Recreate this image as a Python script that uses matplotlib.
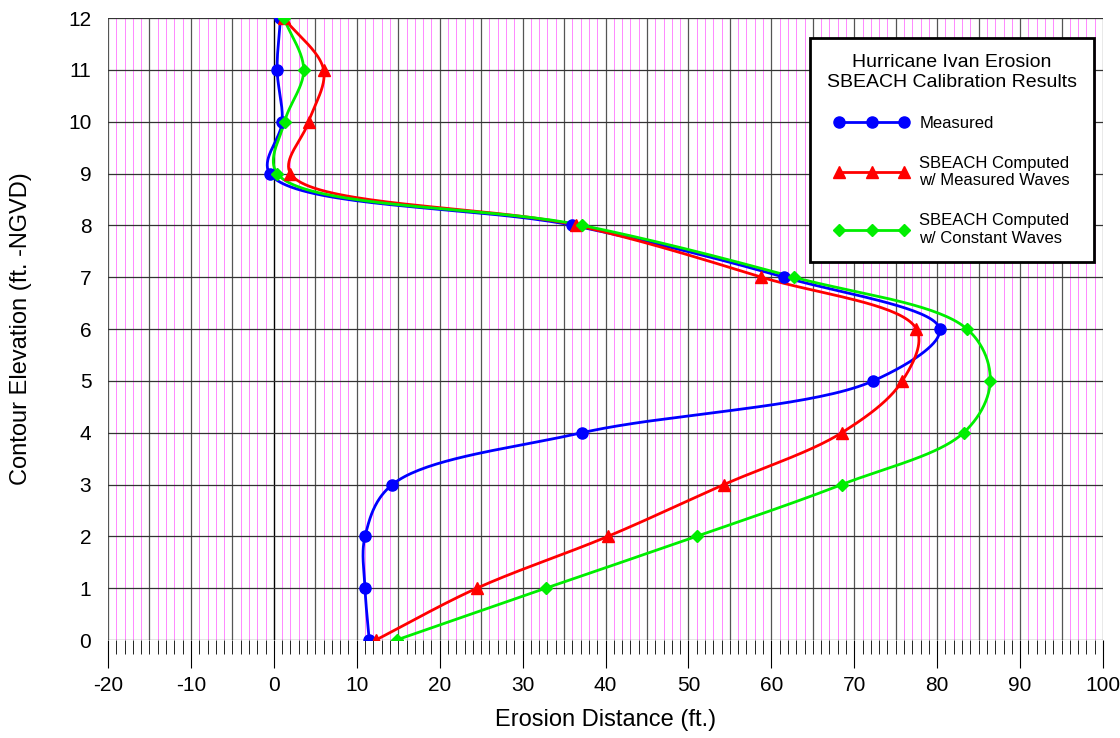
import numpy as np
import matplotlib
matplotlib.use("Agg")
import matplotlib.pyplot as plt
from matplotlib.ticker import MultipleLocator

plt.rcParams['axes.unicode_minus'] = False

elev = [12, 11, 10, 9, 8, 7, 6, 5, 4, 3, 2, 1, 0]
measured = [0.8, 0.4, 1.0, -0.5, 36.0, 61.5, 80.3, 72.3, 37.2, 14.3, 11.0, 11.0, 11.5]
meas_waves = [1.2, 6.0, 4.2, 2.0, 36.5, 58.8, 77.5, 75.8, 68.5, 54.3, 40.3, 24.5, 12.3]
const_waves = [1.2, 3.6, 1.3, 0.4, 37.2, 62.7, 83.6, 86.4, 83.2, 68.5, 51.0, 32.8, 14.8]

def smooth(xs, ys, n=40, alpha=0.5):
    # centripetal Catmull-Rom curve through points (in display-ish scaled units)
    sx, sy = 1 / 8.3, 1 / 51.8
    P = np.column_stack([np.array(xs) / sx, np.array(ys) / sy]).astype(float)
    P = np.vstack([2 * P[0] - P[1], P, 2 * P[-1] - P[-2]])
    out = []
    for i in range(1, len(P) - 2):
        p0, p1, p2, p3 = P[i-1], P[i], P[i+1], P[i+2]
        t0 = 0.0
        t1 = t0 + np.linalg.norm(p1 - p0) ** alpha
        t2 = t1 + np.linalg.norm(p2 - p1) ** alpha
        t3 = t2 + np.linalg.norm(p3 - p2) ** alpha
        t = np.linspace(t1, t2, n)[:, None]
        A1 = (t1 - t) / (t1 - t0) * p0 + (t - t0) / (t1 - t0) * p1
        A2 = (t2 - t) / (t2 - t1) * p1 + (t - t1) / (t2 - t1) * p2
        A3 = (t3 - t) / (t3 - t2) * p2 + (t - t2) / (t3 - t2) * p3
        B1 = (t2 - t) / (t2 - t0) * A1 + (t - t0) / (t2 - t0) * A2
        B2 = (t3 - t) / (t3 - t1) * A2 + (t - t1) / (t3 - t1) * A3
        C = (t2 - t) / (t2 - t1) * B1 + (t - t1) / (t2 - t1) * B2
        out.append(C)
    c = np.vstack(out)
    return c[:, 0] * sx, c[:, 1] * sy

fig = plt.figure(figsize=(11.2, 7.38), dpi=100)
ax = fig.add_axes([108/1120, 1-640/738, (1103-108)/1120, (640-18)/738])
ax.set_xlim(-20, 100)
ax.set_ylim(0, 12)

for v in range(-20, 101):
    if v % 5 == 0:
        ax.axvline(v, color='black' if v == 0 else '#555555', lw=1.0 if v == 0 else 0.9, zorder=1)
    else:
        ax.axvline(v, color='#ff88ff', lw=0.7, zorder=0.5)
for h in range(0, 13):
    ax.axhline(h, color='#333333', lw=0.9, zorder=1)

series = [
    (measured, '#0000ff', 'o', 8, 'Measured'),
    (meas_waves, '#ff0000', '^', 8, 'SBEACH Computed\nw/ Measured Waves'),
    (const_waves, '#00ee00', 'D', 6, 'SBEACH Computed\nw/ Constant Waves'),
]
handles = []
for xs, col, m, ms, lab in series:
    sx, sy = smooth(xs, elev)
    ax.plot(sx, sy, color=col, lw=2, zorder=3)
    ax.plot(xs, elev, ls='none', marker=m, color=col, ms=ms, zorder=4)
    h, = ax.plot([], [], color=col, lw=2, marker=m, ms=ms, label=lab)
    handles.append(h)

ax.xaxis.set_major_locator(MultipleLocator(10))
ax.xaxis.set_minor_locator(MultipleLocator(1))
ax.yaxis.set_major_locator(MultipleLocator(1))
ax.tick_params(axis='x', which='major', length=20, direction='out', labelsize=15, pad=6)
ax.tick_params(axis='x', which='minor', length=10, direction='out')
ax.tick_params(axis='y', which='major', length=0, direction='out', labelsize=15, pad=12)
ax.set_xlabel('Erosion Distance (ft.)', fontsize=17, family='Liberation Sans', labelpad=10)
ax.set_ylabel('Contour Elevation (ft. -NGVD)', fontsize=17, family='Liberation Sans', labelpad=26)
for lbl in ax.get_xticklabels() + ax.get_yticklabels():
    lbl.set_family('Liberation Sans')
for s in ax.spines.values():
    s.set_visible(False)

leg = ax.legend(handles=handles, loc='upper right', bbox_to_anchor=(0.999, 0.982),
                title='Hurricane Ivan Erosion\nSBEACH Calibration Results',
                prop={'family': 'Liberation Sans', 'size': 12}, handlelength=4.5,
                numpoints=3, fancybox=False, framealpha=1, edgecolor='black',
                borderpad=1.0, labelspacing=1.5, handletextpad=0.6)
leg.get_title().set_fontsize(14)
leg.get_title().set_family('Liberation Sans')
leg.get_title().set_multialignment('center')
leg.get_frame().set_linewidth(2)
leg.set_zorder(10)

fig.savefig('out.png', dpi=100)
